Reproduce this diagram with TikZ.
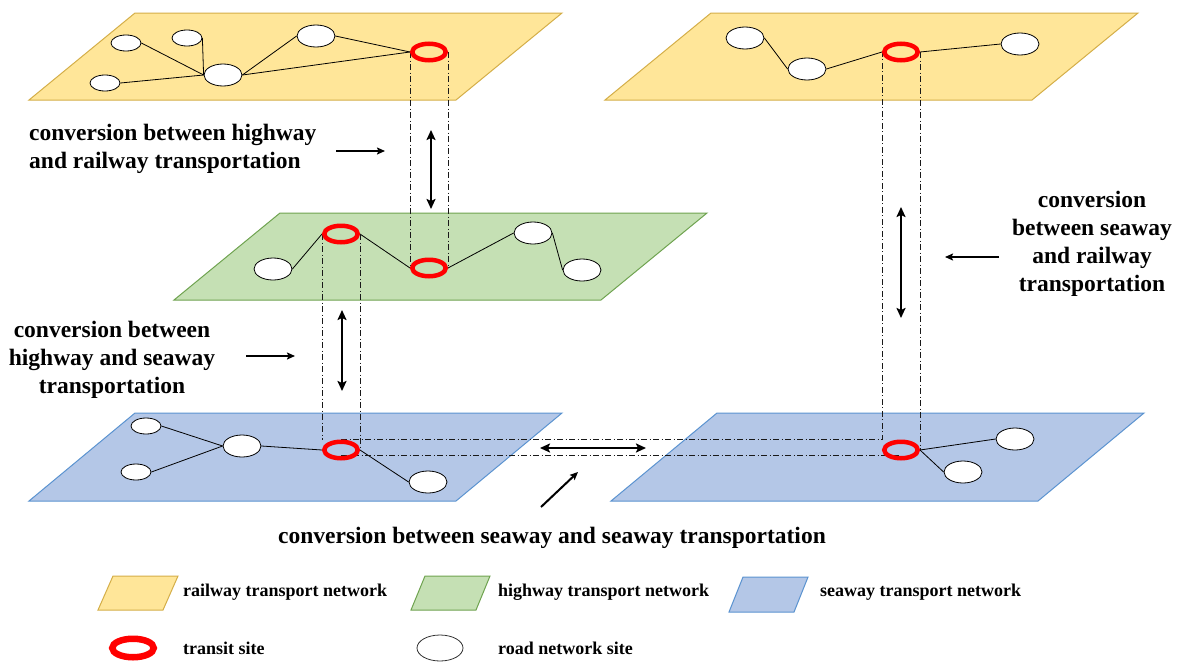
\documentclass[tikz,border=0pt]{standalone}
\usepackage{fontspec}
\setmainfont{Liberation Serif}
\usetikzlibrary{shapes.geometric}
\usetikzlibrary{arrows.meta}
\usetikzlibrary{positioning}

\definecolor{railfill}{HTML}{FFE699}
\definecolor{railedge}{HTML}{D4AE48}
\definecolor{highfill}{HTML}{C5E0B4}
\definecolor{highedge}{HTML}{6FA350}
\definecolor{seafill}{HTML}{B4C7E7}
\definecolor{seaedge}{HTML}{5B93D0}

\pgfdeclarelayer{planes}
\pgfdeclarelayer{links}
\pgfsetlayers{planes,links,main}

\begin{document}
\begin{tikzpicture}[x=1pt, y=-1pt,
  site/.style={ellipse, draw=black, fill=white, line width=0.8pt, minimum width=38, minimum height=22, inner sep=0pt},
  smallsite/.style={site, minimum width=30, minimum height=16},
  transit/.style={ellipse, draw=red, line width=4.5pt, minimum width=33.5, minimum height=16.5, inner sep=0pt},
  link/.style={line width=0.8pt},
  tube/.style={black!90, line width=0.8pt, dash pattern=on 6pt off 2.5pt on 1pt off 2.5pt},
  railplane/.style={draw=railedge, fill=railfill, line width=1pt},
  highplane/.style={draw=highedge, fill=highfill, line width=1pt},
  seaplane/.style={draw=seaedge, fill=seafill, line width=1pt},
  convtext/.style={font=\fontsize{23.5}{28}\selectfont\bfseries, align=center, inner sep=0pt},
  legtext/.style={font=\fontsize{18}{20}\selectfont\bfseries, anchor=west, inner sep=0pt},
  bigarrow/.style={<->, line width=2.8pt},
  pointer/.style={-{Stealth[length=8pt, width=7pt, inset=1.5pt]}, line width=2pt}]
\tikzset{>={Stealth[length=10pt, width=9pt, inset=2pt]}}

\useasboundingbox (0,0) rectangle (1180,664);

% planes
\begin{pgfonlayer}{planes}
\draw[railplane] (29,100) -- ++(427,0) -- ++(106,-87) -- ++(-427,0) -- cycle;
\draw[railplane] (605,100) -- ++(427,0) -- ++(106,-87) -- ++(-427,0) -- cycle;
\draw[highplane] (174,300) -- ++(427,0) -- ++(106,-87) -- ++(-427,0) -- cycle;
\draw[seaplane] (29,501) -- ++(427,0) -- ++(106,-88) -- ++(-427,0) -- cycle;
\draw[seaplane] (611,501) -- ++(427,0) -- ++(106,-88) -- ++(-427,0) -- cycle;
\end{pgfonlayer}

% railway, left
\node (r1) [smallsite] at (126,43) {};
\node (r2) [smallsite] at (187,38) {};
\node (r3) [smallsite] at (105,83) {};
\node (r4) [site] at (223,75) {};
\node (r5) [site] at (316,36) {};
\node (rt1) [transit] at (429,52) {};

% railway, right
\node (r6) [site] at (745,38) {};
\node (r7) [site] at (807,69) {};
\node (rt2) [transit] at (901,52) {};
\node (r8) [site] at (1020,44) {};

% highway
\node (h1) [site] at (273,269) {};
\node (ht1) [transit] at (341,234) {};
\node (ht2) [transit] at (429,268) {};
\node (h2) [site] at (533,233) {};
\node (h3) [site] at (582,270) {};

% seaway
\node (s1) [smallsite] at (146,426) {};
\node (s2) [smallsite] at (136,472) {};
\node (s3) [site] at (242,446) {};
\node (st1) [transit] at (341,450) {};
\node (s4) [site] at (428,482) {};
\node (st2) [transit] at (901,450) {};
\node (s5) [site] at (1015,439) {};
\node (s6) [site] at (963,472) {};

\begin{pgfonlayer}{links}
% roads
\draw [link](node cs:name=r1, anchor=east) -- (node cs:name=r4, anchor=west);
\draw [link](node cs:name=r2, anchor=east) -- (node cs:name=r4, anchor=west);
\draw [link](node cs:name=r3, anchor=east) -- (node cs:name=r4, anchor=west);
\draw [link](node cs:name=r4, anchor=east) -- (node cs:name=r5, anchor=west);
\draw [link](node cs:name=r4, anchor=east) -- (node cs:name=rt1, anchor=west);
\draw [link](node cs:name=r5, anchor=east) -- (node cs:name=rt1, anchor=west);
\draw [link](node cs:name=r6, anchor=east) -- (node cs:name=r7, anchor=west);
\draw [link](node cs:name=r7, anchor=east) -- (node cs:name=rt2, anchor=west);
\draw [link](node cs:name=rt2, anchor=east) -- (node cs:name=r8, anchor=west);
\draw [link](node cs:name=h1, anchor=east) -- (node cs:name=ht1, anchor=west);
\draw [link](node cs:name=ht1, anchor=east) -- (node cs:name=ht2, anchor=west);
\draw [link](node cs:name=ht2, anchor=east) -- (node cs:name=h2, anchor=west);
\draw [link](node cs:name=h2, anchor=east) -- (node cs:name=h3, anchor=west);
\draw [link](node cs:name=s1, anchor=east) -- (node cs:name=s3, anchor=west);
\draw [link](node cs:name=s2, anchor=east) -- (node cs:name=s3, anchor=west);
\draw [link](node cs:name=s3, anchor=east) -- (node cs:name=st1, anchor=west);
\draw [link](node cs:name=st1, anchor=east) -- (node cs:name=s4, anchor=west);
\draw [link](node cs:name=st2, anchor=east) -- (node cs:name=s5, anchor=west);
\draw [link](node cs:name=st2, anchor=east) -- (node cs:name=s6, anchor=west);

% transfers
\draw [tube](rt1.west) -- (ht2.west);
\draw [tube](rt1.east) -- (ht2.east);
\draw [tube](ht1.west) -- (ht1.west |- st1.north);
\draw [tube](ht1.east) -- (st1.east);
\draw [tube](st1.north) -- (st1.north -| st2.west) -- (rt2.west);
\draw [tube]([yshift=-5pt]st1.center) -- ([yshift=-5pt]st2.center);
\draw [tube](rt2.east) -- (st2.east);
\end{pgfonlayer}

% conversions
\coordinate (hrA) at (431,130);
\coordinate (hrB) at (431,209);
\coordinate (hsA) at (342,310);
\coordinate (hsB) at (342,391);
\coordinate (srA) at (901,207);
\coordinate (srB) at (901,318);
\coordinate (ssA) at (540,448);
\coordinate (ssB) at (646,448);
\draw [bigarrow](hrA) -- (hrB);
\draw [bigarrow](hsA) -- (hsB);
\draw [bigarrow](srA) -- (srB);
\draw [bigarrow](ssA) -- (ssB);

% labels
\node (hrtext) [convtext, align=left, anchor=west] at (29,149) {conversion between highway\\and railway transportation};
\node (hstext) [convtext] at (112,360) {conversion between\\highway and seaway\\transportation};
\node (srtext) [convtext] at (1092,244) {conversion\\between seaway\\and railway\\transportation};
\node (sstext) [convtext] at (552,538) {conversion between seaway and seaway transportation};

\coordinate (p1) at (336,151);
\coordinate (p2) at (385,151);
\coordinate (p3) at (246,356);
\coordinate (p4) at (295,356);
\coordinate (p5) at (999,257);
\coordinate (p6) at (945,257);
\coordinate (p7) at (541,507);
\coordinate (p8) at (578,472);
\draw [pointer](p1) -- (p2);
\draw [pointer](p3) -- (p4);
\draw [pointer](p5) -- (p6);
\draw [pointer](p7) -- (p8);

% legend
\draw[railplane] (98,610) -- ++(65,0) -- ++(15,-34) -- ++(-65,0) -- cycle;
\draw[highplane] (411,610) -- ++(65,0) -- ++(14,-34) -- ++(-65,0) -- cycle;
\draw[seaplane] (729,612) -- ++(65,0) -- ++(14,-35) -- ++(-65,0) -- cycle;
\node (railleg) [legtext] at (183,592) {railway transport network};
\node (highleg) [legtext] at (498,592) {highway transport network};
\node (sealeg) [legtext] at (820,592) {seaway transport network};
\node (transitleg) [transit, line width=6.5pt, minimum width=41.5, minimum height=18.5] at (133,648) {};
\node (siteleg) [site, draw=black!80, minimum width=46, minimum height=26] at (440,648) {};
\node [legtext] at (183,648) {transit site};
\node [legtext] at (498,648) {road network site};
\end{tikzpicture}
\end{document}
